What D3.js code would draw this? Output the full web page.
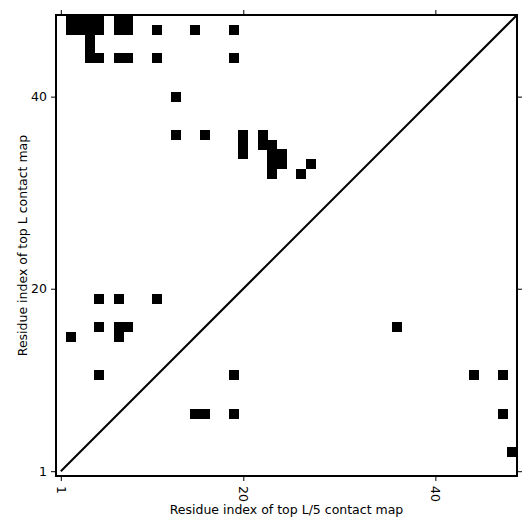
<!DOCTYPE html>
<html>
<head>
<meta charset="utf-8">
<script src="https://cdn.jsdelivr.net/npm/d3@7"></script>
<style>
  body { margin: 0; background: #fff; }
  text { font-family: "DejaVu Sans", sans-serif; fill: #000; }
</style>
</head>
<body>
<div id="chart"></div>
<script>
var L = 48;

// top L contacts, residue pairs [i, j] with i < j (drawn above the diagonal)
var topLContacts = [
  [2,48],[3,48],[4,48],[5,48],[7,48],[8,48],
  [2,47],[3,47],[4,47],[5,47],[7,47],[8,47],[11,47],[15,47],[19,47],
  [4,46],[4,45],
  [4,44],[5,44],[7,44],[8,44],[11,44],[19,44],
  [13,40],
  [13,36],[16,36],[20,36],[22,36],
  [20,35],[22,35],[23,35],
  [20,34],[23,34],[24,34],
  [23,33],[24,33],[27,33],
  [23,32],[26,32],
  [5,19],[7,19],[11,19],
  [5,16],[7,16],[8,16],
  [2,15],[7,15],
  [5,11]
];

// top L/5 contacts (drawn below the diagonal, transposed)
var topL5Contacts = [
  [11,19],[7,15],[7,16],[7,19],[16,36],[11,44],[11,47],[7,47],[3,48]
];

var tickValues = [1, 20, 40];

var svgWidth = 531, svgHeight = 531;
var margin = {top: 15, right: 14, bottom: 55, left: 56};
var width = svgWidth - margin.left - margin.right;
var height = svgHeight - margin.top - margin.bottom;

var svg = d3.select("#chart").append("svg")
  .attr("width", svgWidth)
  .attr("height", svgHeight);

var chartGroup = svg.append("g")
  .attr("transform", `translate(${margin.left}, ${margin.top})`);

var xScale = d3.scaleLinear().domain([0.5, L + 0.5]).range([0, width]);
var yScale = d3.scaleLinear().domain([0.5, L + 0.5]).range([height, 0]);
var cw = xScale(1.5) - xScale(0.5);
var ch = yScale(0.5) - yScale(1.5);

svg.append("defs").append("clipPath").attr("id", "plotclip")
  .append("rect").attr("width", width).attr("height", height);

var plot = chartGroup.append("g").attr("clip-path", "url(#plotclip)");

// upper triangle: top L
plot.append("g").selectAll("rect")
  .data(topLContacts)
  .enter().append("rect")
  .attr("x", d => xScale(d[0] - 0.5))
  .attr("y", d => yScale(d[1] + 0.5))
  .attr("width", cw + 0.4)
  .attr("height", ch + 0.4)
  .attr("shape-rendering", "crispEdges")
  .attr("fill", "#000");

// lower triangle: top L/5
plot.append("g").selectAll("rect")
  .data(topL5Contacts)
  .enter().append("rect")
  .attr("x", d => xScale(d[1] - 0.5))
  .attr("y", d => yScale(d[0] + 0.5))
  .attr("width", cw + 0.4)
  .attr("height", ch + 0.4)
  .attr("shape-rendering", "crispEdges")
  .attr("fill", "#000");

// diagonal
plot.append("line")
  .attr("x1", xScale(1)).attr("y1", yScale(1))
  .attr("x2", xScale(L + 1)).attr("y2", yScale(L + 1))
  .attr("stroke", "#000")
  .attr("stroke-width", 2);

// axes, ticks on all four sides
var bottomAxis = d3.axisBottom(xScale).tickValues(tickValues).tickSize(5).tickFormat("");
var topAxis = d3.axisTop(xScale).tickValues(tickValues).tickSize(5).tickFormat("");
var leftAxis = d3.axisLeft(yScale).tickValues(tickValues).tickSize(5).tickPadding(4);
var rightAxis = d3.axisRight(yScale).tickValues(tickValues).tickSize(5).tickFormat("");

var gb = chartGroup.append("g").attr("transform", `translate(0, ${height})`).call(bottomAxis);
chartGroup.append("g").call(topAxis);
var gl = chartGroup.append("g").call(leftAxis);
chartGroup.append("g").attr("transform", `translate(${width}, 0)`).call(rightAxis);

chartGroup.selectAll(".domain").remove();
chartGroup.selectAll(".tick line").attr("stroke", "#000").attr("stroke-width", 1);
gl.selectAll(".tick text").style("font-size", "12.5px").style("font-family", "DejaVu Sans");

// rotated x tick labels
gb.selectAll(".tick").append("text")
  .attr("transform", "translate(0, 10) rotate(90)")
  .attr("text-anchor", "start")
  .attr("dy", "0.35em")
  .style("font-size", "12.5px")
  .attr("fill", "#000")
  .text(d => d);

// frame
chartGroup.append("rect")
  .attr("width", width).attr("height", height)
  .attr("fill", "none")
  .attr("stroke", "#000")
  .attr("stroke-width", 2);

// axis labels
chartGroup.append("text")
  .attr("x", width / 2)
  .attr("y", height + 38)
  .attr("text-anchor", "middle")
  .style("font-size", "12.5px")
  .text("Residue index of top L/5 contact map");

chartGroup.append("text")
  .attr("transform", `translate(-29, ${height / 2}) rotate(-90)`)
  .attr("text-anchor", "middle")
  .style("font-size", "12.5px")
  .text("Residue index of top L contact map");
</script>
</body>
</html>
